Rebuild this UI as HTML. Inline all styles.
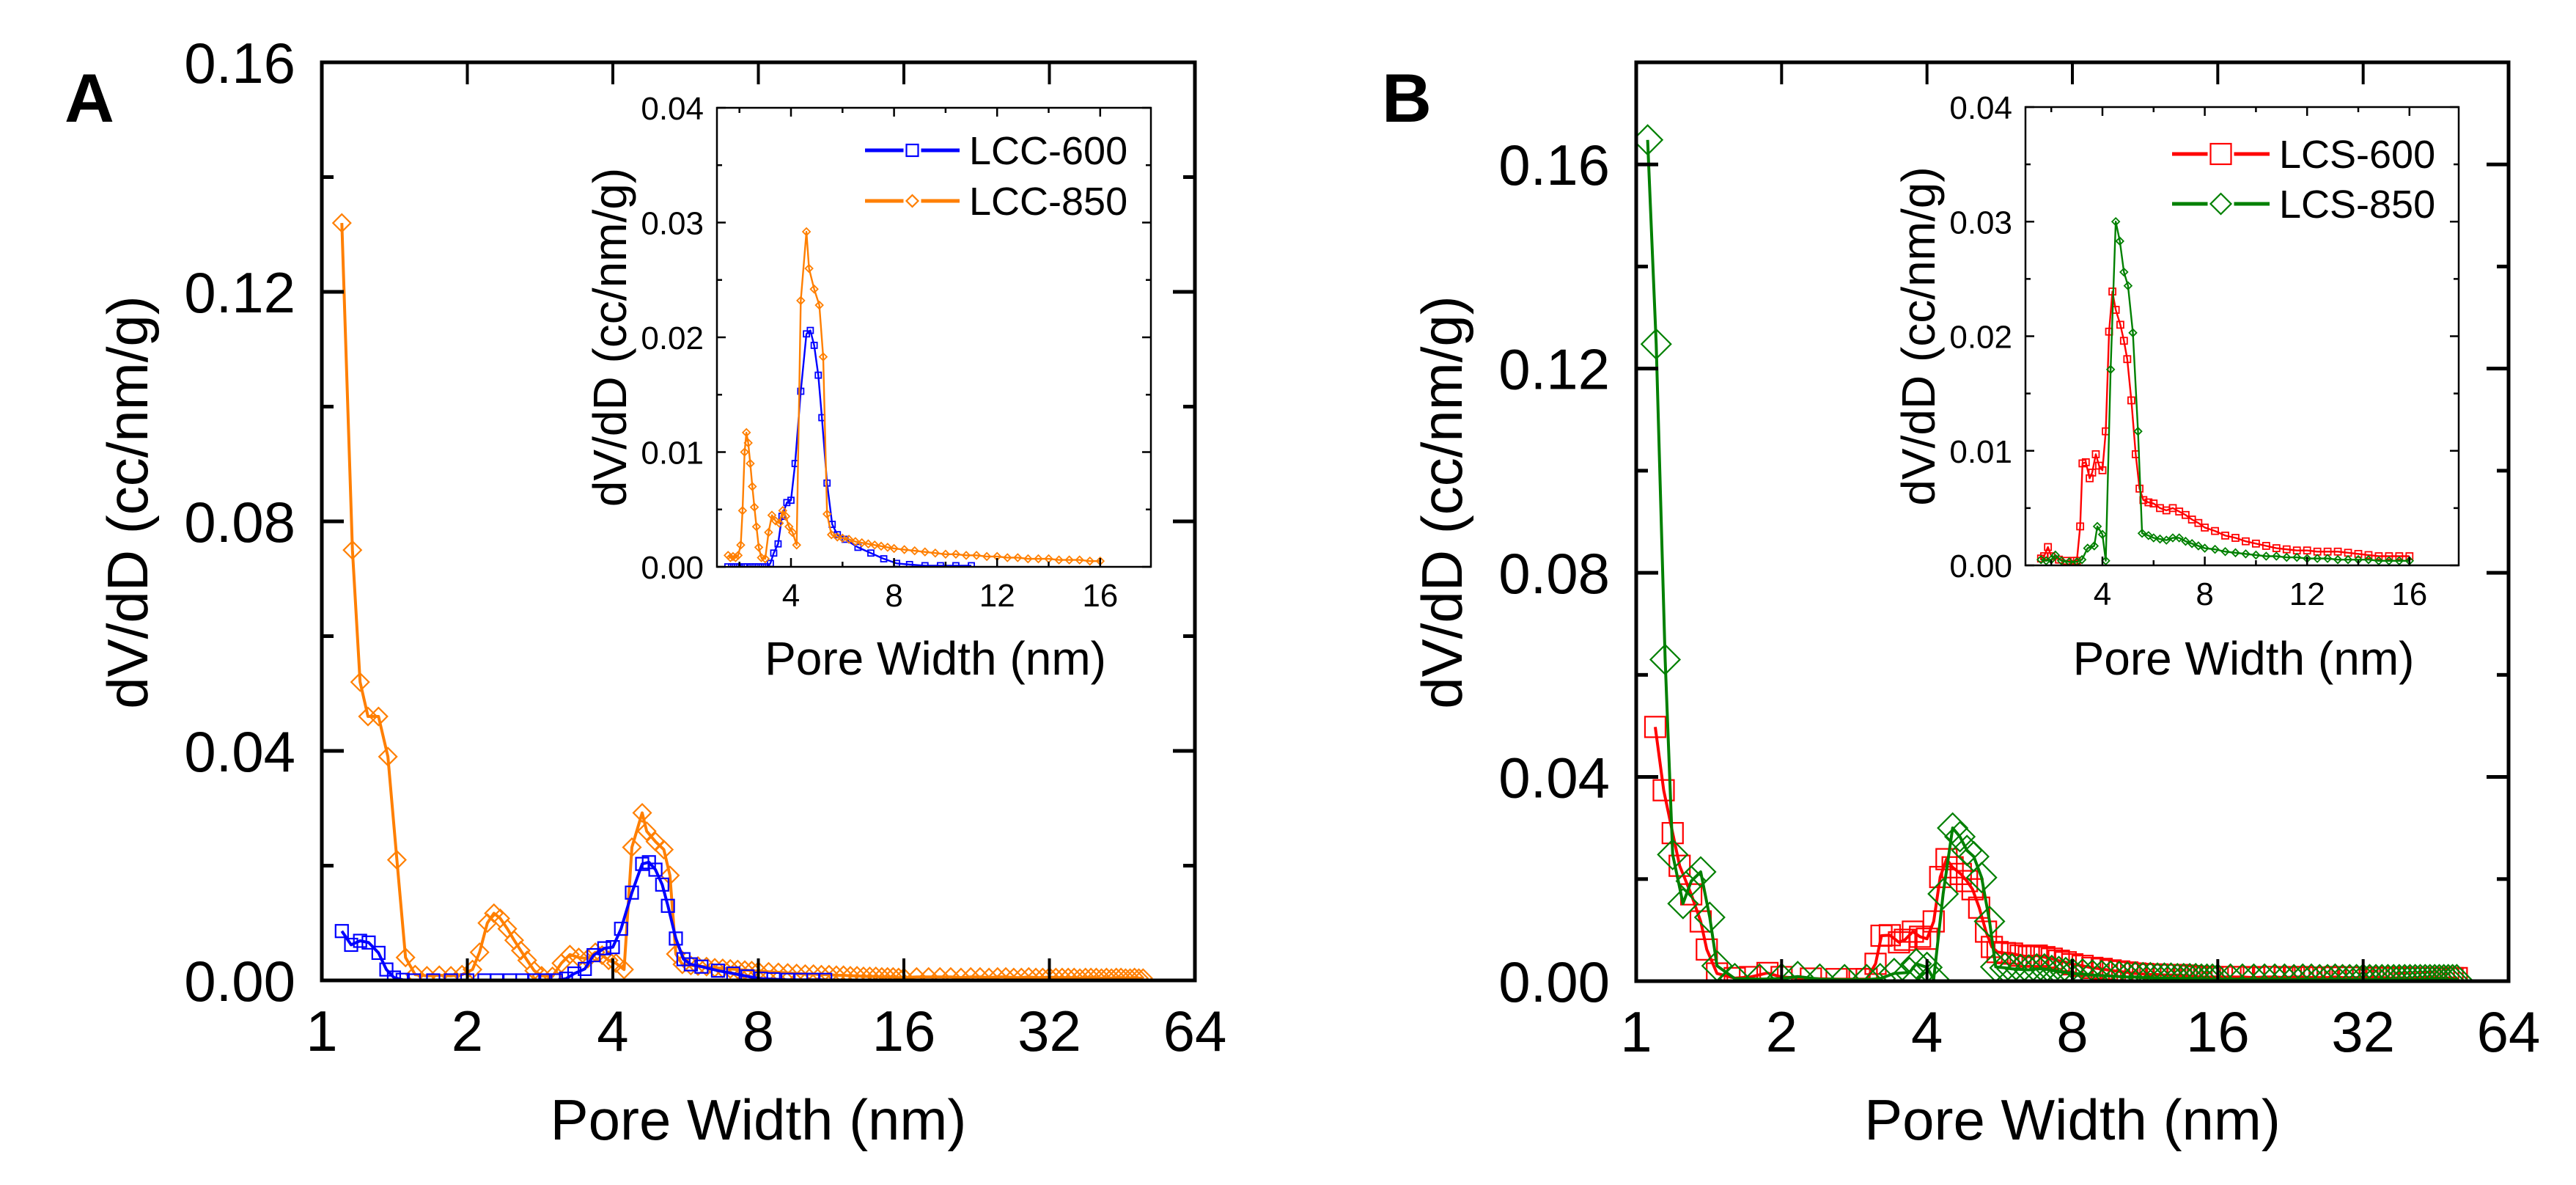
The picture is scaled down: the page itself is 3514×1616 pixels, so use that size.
<!DOCTYPE html>
<html><head><meta charset="utf-8">
<style>
html,body{margin:0;padding:0;background:#fff;}
svg{display:block;font-family:"Liberation Sans",Arial,sans-serif;}
</style></head>
<body>
<svg id="fig" width="3514" height="1616" viewBox="0 0 3514 1616" xmlns="http://www.w3.org/2000/svg">
<rect width="3514" height="1616" fill="#fff"/>
</svg>
<script>
// ---------- data ----------
const tailWidths=[5.8,6.0,6.25,6.5,6.75,7.0,7.25,7.5,7.75,8.0,8.4,8.8,9.2,9.6,10.0,10.4,10.8,11.2,11.6,12.0,12.4,12.8,13.2,13.6,14.0,14.4,14.8,15.2,15.6,16.0,17,18,19,20,21,22,23,24,25,26,27,28,29,30,31,32,33,34,35,36,37,38,39,40,41,42,43,44,45,46,47,48,49,50];

const lcc850Head=[1.10,1.157,1.20,1.246,1.31,1.37,1.43,1.49,1.56,1.65,1.75,1.85,1.95,2.05,2.12,2.2,2.27,2.34,2.42,2.5,2.58,2.66,2.75,2.85,3.0,3.13,3.26,3.4,3.55,3.68,3.8,3.92,4.06,4.22,4.38,4.6,4.7,4.9,5.1,5.25,5.4,5.57];
const lcc850HeadV=[0.132,0.075,0.052,0.046,0.046,0.039,0.021,0.004,0.0010,0.0008,0.0009,0.0008,0.0010,0.0019,0.0049,0.0100,0.0117,0.0108,0.0090,0.0070,0.0052,0.0035,0.0017,0.0008,0.0007,0.0030,0.0045,0.0040,0.0038,0.0049,0.0044,0.0035,0.0030,0.0019,0.0232,0.0292,0.0260,0.0242,0.0228,0.0183,0.0046,0.0028];
const lcc850TailV=[0.0026,0.0025,0.0024,0.0022,0.0021,0.0020,0.0019,0.0018,0.0017,0.0016,0.0015,0.0014,0.0013,0.0012,0.0011,0.0011,0.0010,0.0010,0.0009,0.0009,0.0008,0.0008,0.0007,0.0007,0.0007,0.0006,0.0006,0.0006,0.0005,0.0005,0.0006,0.0006,0.0006,0.0006,0.0005,0.0006,0.0006,0.0005,0.0006,0.0006,0.0005,0.0005,0.0006,0.0005,0.0005,0.0006,0.0005,0.0005,0.0005,0.0005,0.0004,0.0005,0.0005,0.0005,0.0004,0.0005,0.0004,0.0005,0.0005,0.0004,0.0004,0.0005,0.0004,0.0004];

const lcc600W=[1.10,1.15,1.20,1.25,1.31,1.36,1.41,1.47,1.55,1.7,1.85,2.0,2.17,2.3,2.45,2.6,2.75,2.9,3.05,3.2,3.33,3.5,3.65,3.84,4.0,4.16,4.38,4.6,4.75,4.9,5.06,5.2,5.4,5.6,5.8,6.1,6.6,7.1,7.6,8.1,8.6,9.2,9.8,10.4,11.0];
const lcc600V=[0.0086,0.0062,0.0069,0.0066,0.0048,0.0019,0.0005,0.0001,0,0,0,0,0,0,0,0,0,0,0,0.0003,0.0012,0.0020,0.0044,0.0056,0.0058,0.0090,0.0153,0.0203,0.0206,0.0193,0.0167,0.0130,0.0073,0.0037,0.0028,0.0024,0.0017,0.0012,0.0007,0.0003,0.0002,0.0001,0.0001,0.0001,0.0001];

const lcs850Head=[1.056,1.10,1.148,1.19,1.25,1.30,1.36,1.42,1.47,1.6,1.8,2.0,2.16,2.4,2.7,3.0,3.2,3.42,3.68,3.8,4.0,4.13,4.32,4.52,4.68,4.84,5.0,5.19,5.39,5.55];
const lcs850HeadV=[0.1648,0.1248,0.063,0.0248,0.0152,0.0196,0.0214,0.0125,0.003,0.0005,0.0004,0.0005,0.0009,0.0004,0.0003,0.0003,0.0005,0.0015,0.0017,0.0034,0.0027,0.0004,0.0171,0.0300,0.0283,0.0256,0.0244,0.0203,0.0117,0.0028];
const lcs850TailV=[0.0026,0.0024,0.0023,0.0022,0.0024,0.0024,0.0021,0.0019,0.0017,0.0015,0.0014,0.0012,0.0011,0.0010,0.0009,0.0008,0.0008,0.0007,0.0007,0.0006,0.0006,0.0006,0.0005,0.0005,0.0005,0.0005,0.0004,0.0004,0.0004,0.0004,0.0004,0.0004,0.0004,0.0004,0.0004,0.0004,0.0003,0.0004,0.0004,0.0003,0.0003,0.0004,0.0003,0.0003,0.0003,0.0004,0.0003,0.0003,0.0003,0.0003,0.0003,0.0003,0.0003,0.0003,0.0003,0.0003,0.0003,0.0003,0.0003,0.0003,0.0003,0.0003,0.0003,0.0003];

const lcs600Head=[1.095,1.14,1.19,1.23,1.30,1.36,1.40,1.47,1.6,1.72,1.87,2.0,2.3,2.6,2.9,3.0,3.13,3.22,3.35,3.5,3.6,3.74,3.87,4.0,4.13,4.26,4.39,4.52,4.7,4.84,4.97,5.13,5.3,5.45,5.6];
const lcs600HeadV=[0.0498,0.0374,0.029,0.0226,0.017,0.0117,0.0062,0.0015,0.0006,0.0008,0.0016,0.0008,0.0005,0.0004,0.0004,0.0004,0.0034,0.0089,0.0090,0.0076,0.0081,0.0097,0.0087,0.0083,0.0117,0.0204,0.0239,0.0223,0.0210,0.0196,0.0180,0.0144,0.0097,0.0067,0.0057];
const lcs600TailV=[0.0055,0.0054,0.0050,0.0048,0.0050,0.0047,0.0044,0.0040,0.0037,0.0033,0.0030,0.0026,0.0024,0.0021,0.0019,0.0017,0.0015,0.0014,0.0013,0.0013,0.0012,0.0012,0.0012,0.0011,0.0010,0.0009,0.0008,0.0008,0.0008,0.0008,0.0008,0.0008,0.0007,0.0008,0.0008,0.0007,0.0008,0.0008,0.0007,0.0007,0.0007,0.0008,0.0007,0.0007,0.0007,0.0007,0.0006,0.0007,0.0007,0.0006,0.0006,0.0007,0.0006,0.0006,0.0006,0.0006,0.0006,0.0006,0.0006,0.0006,0.0006,0.0006,0.0006,0.0006];

const mainXTicks=[1,2,4,8,16,32,64];
const mainXLabels=["1","2","4","8","16","32","64"];
const mainYTicks=[0,0.04,0.08,0.12,0.16];
const mainYLabels=["0.00","0.04","0.08","0.12","0.16"];
const insetXTicks=[4,8,12,16];
const insetXLabels=["4","8","12","16"];
const insetYTicks=[0,0.01,0.02,0.03,0.04];
const insetYLabels=["0.00","0.01","0.02","0.03","0.04"];

// ---------- helpers ----------
const NS="http://www.w3.org/2000/svg";
const svg=document.getElementById('fig');
function mk(tag,attrs,parent){const e=document.createElementNS(NS,tag);for(const k in attrs)e.setAttribute(k,attrs[k]);(parent||svg).appendChild(e);return e;}
function txt(s,attrs,parent){const e=mk('text',attrs,parent);e.textContent=s;return e;}
function combine(hx,hv,tx,tv){const xs=hx.concat(tx),vs=hv.concat(tv);return {xs,vs};}

function marker(g,shape,x,y,s,color,sw){
  let e;
  if(shape==='sq'){e=mk('rect',{x:x-s/2,y:y-s/2,width:s,height:s,fill:'none',stroke:color,'stroke-width':sw},g);}
  else{e=mk('polygon',{points:`${x},${y-s/2} ${x+s/2},${y} ${x},${y+s/2} ${x-s/2},${y}`,fill:'none',stroke:color,'stroke-width':sw},g);}
  return e;
}

function drawSeries(g,xs,vs,fx,fy,xmin,xmax,color,shape,ms,lw,msw,name){
  const sg=mk('g',{},g);
  
  
  let pts=[];
  for(let i=0;i<xs.length;i++){if(xs[i]<=xmax&&xs[i]>=xmin)pts.push([fx(xs[i]),fy(vs[i])]);}
  const ln=mk('polyline',{points:pts.map(p=>p.join(',')).join(' '),fill:'none',stroke:color,'stroke-width':lw,'stroke-linejoin':'round'},sg);
  
  
  pts.forEach(p=>{const m=marker(sg,shape,p[0],p[1],ms,color,msw);
    
    });
}

function mainPanel(o){
  const g=mk('g',{});
  
  
  const fx=w=>o.L+Math.log2(w)/6*(o.R-o.L);
  const fy=v=>o.B-v/o.ymax*(o.B-o.T);
  const cid=o.name+'-clip';
  const cp=mk('clipPath',{id:cid},g);mk('rect',{x:o.L,y:o.T,width:o.R-o.L,height:o.B-o.T},cp);
  const dg=mk('g',{'clip-path':`url(#${cid})`},g);
  o.series.forEach(s=>drawSeries(dg,s.xs,s.vs,fx,fy,0,1e9,s.color,s.shape,s.ms,4,2.2,s.name));
  const fr=mk('rect',{x:o.L,y:o.T,width:o.R-o.L,height:o.B-o.T,fill:'none',stroke:'#000','stroke-width':5},g);
  
  
  mainXTicks.forEach((t,i)=>{const x=fx(t);
    if(i>0&&i<mainXTicks.length-1){mk('line',{x1:x,x2:x,y1:o.B,y2:o.B-30,stroke:'#000','stroke-width':4},g);mk('line',{x1:x,x2:x,y1:o.T,y2:o.T+30,stroke:'#000','stroke-width':4},g);}
    const l=txt(mainXLabels[i],{x:x,y:o.B+96,'font-size':78,'text-anchor':'middle'},g);
    
    });
  for(let v=0;v<=o.ymax+1e-9;v+=0.02){const y=fy(v);const maj=Math.round(v*100)%4===0;const len=maj?30:16;
    mk('line',{x1:o.L,x2:o.L+len,y1:y,y2:y,stroke:'#000','stroke-width':5},g);
    mk('line',{x1:o.R,x2:o.R-len,y1:y,y2:y,stroke:'#000','stroke-width':5},g);}
  mainYTicks.forEach((t,i)=>{const l=txt(mainYLabels[i],{x:o.L-36,y:fy(t)+28,'font-size':78,'text-anchor':'end'},g);
    
    });
  const xt=txt('Pore Width (nm)',{x:(o.L+o.R)/2,y:1554,'font-size':78,'text-anchor':'middle'},g);
  
  
  const yt=txt('dV/dD (cc/nm/g)',{x:0,y:0,'font-size':78,'text-anchor':'middle',transform:`translate(${o.L-238},685) rotate(-90)`},g);
  
  
  const pl=txt(o.letter,{x:o.letterX,y:166,'font-size':94,'font-weight':'bold'},g);
  
  
  return g;
}

function insetPanel(o){
  const g=mk('g',{});
  
  
  mk('rect',{x:o.L,y:o.T,width:o.R-o.L,height:o.B-o.T,fill:'#fff'},g);
  const fx=w=>o.x4+(w-4)*o.kx;
  const fy=v=>o.B-v/0.04*(o.B-o.T);
  const cid=o.name+'-clip';
  const cp=mk('clipPath',{id:cid},g);mk('rect',{x:o.L,y:o.T,width:o.R-o.L,height:o.B-o.T},cp);
  const dg=mk('g',{'clip-path':`url(#${cid})`},g);
  o.series.forEach(s=>drawSeries(dg,s.xs,s.vs,fx,fy,1.55,16.3,s.color,s.shape,s.ims,2.4,1.8,s.name+'-inset'));
  const fr=mk('rect',{x:o.L,y:o.T,width:o.R-o.L,height:o.B-o.T,fill:'none',stroke:'#000','stroke-width':2.5},g);
  
  
  [2,4,6,8,10,12,14,16].forEach(t=>{const x=fx(t);const len=(t%4===0)?12:7;
    mk('line',{x1:x,x2:x,y1:o.B,y2:o.B-len,stroke:'#000','stroke-width':2.5},g);
    mk('line',{x1:x,x2:x,y1:o.T,y2:o.T+len,stroke:'#000','stroke-width':2.5},g);});
  insetXTicks.forEach((t,i)=>{const l=txt(insetXLabels[i],{x:fx(t),y:o.B+54,'font-size':44,'text-anchor':'middle'},g);
    
    });
  for(let k=0;k<=8;k++){const y=fy(k*0.005);const len=(k%2===0)?12:7;
    mk('line',{x1:o.L,x2:o.L+len,y1:y,y2:y,stroke:'#000','stroke-width':2.5},g);
    mk('line',{x1:o.R,x2:o.R-len,y1:y,y2:y,stroke:'#000','stroke-width':2.5},g);}
  insetYTicks.forEach((t,i)=>{const l=txt(insetYLabels[i],{x:o.L-18,y:fy(t)+16,'font-size':44,'text-anchor':'end'},g);
    
    });
  const xt=txt('Pore Width (nm)',{x:(o.L+o.R)/2+2,y:920,'font-size':64,'text-anchor':'middle'},g);
  
  
  const yt=txt('dV/dD (cc/nm/g)',{x:0,y:0,'font-size':64,'text-anchor':'middle',transform:`translate(${o.L-124},${(o.T+o.B)/2}) rotate(-90)`},g);
  
  
  o.series.forEach((s,i)=>{const y=o.legY[i];
    const lg=mk('g',{},g);
    
    
    mk('line',{x1:o.legX1,x2:o.legX2,y1:y,y2:y,stroke:s.color,'stroke-width':5},lg);
    mk('rect',{x:(o.legX1+o.legX2)/2-o.legMs/2-4,y:y-o.legMs/2-4,width:o.legMs+8,height:o.legMs+8,fill:'#fff'},lg);
    marker(lg,s.shape,(o.legX1+o.legX2)/2,y,o.legMs,s.color,2.2);
    txt(s.label,{x:o.legTx,y:y+19,'font-size':54},lg);});
}

const a850=combine(lcc850Head,lcc850HeadV,tailWidths,lcc850TailV);
const b850=combine(lcs850Head,lcs850HeadV,tailWidths,lcs850TailV);
const b600=combine(lcs600Head,lcs600HeadV,tailWidths,lcs600TailV);

const seriesA=[
 {name:'lcc-600',label:'LCC-600',xs:lcc600W,vs:lcc600V,color:'#0000ff',shape:'sq',ms:17,ims:8},
 {name:'lcc-850',label:'LCC-850',xs:a850.xs,vs:a850.vs,color:'#ff7f00',shape:'di',ms:24,ims:10}];
const seriesB=[
 {name:'lcs-600',label:'LCS-600',xs:b600.xs,vs:b600.vs,color:'#ff0000',shape:'sq',ms:28,ims:9},
 {name:'lcs-850',label:'LCS-850',xs:b850.xs,vs:b850.vs,color:'#008000',shape:'di',ms:40,ims:10}];

mainPanel({name:'panel-a',L:439,R:1630,T:85,B:1337,ymax:0.16,series:[seriesA[1],seriesA[0]],letter:'A',letterX:88});
insetPanel({name:'inset-a',L:978,R:1570,T:147,B:773,x4:1079,kx:35.15,series:seriesA,legY:[205,274],legX1:1180,legX2:1309,legTx:1322,legMs:16});
mainPanel({name:'panel-b',L:2232,R:3422,T:85,B:1338,ymax:0.18,series:[seriesB[0],seriesB[1]],letter:'B',letterX:1885});
insetPanel({name:'inset-b',L:2763,R:3354,T:146,B:771,x4:2868,kx:34.9,series:seriesB,legY:[210,278],legX1:2963,legX2:3096,legTx:3109,legMs:28});
</script>
</body></html>
